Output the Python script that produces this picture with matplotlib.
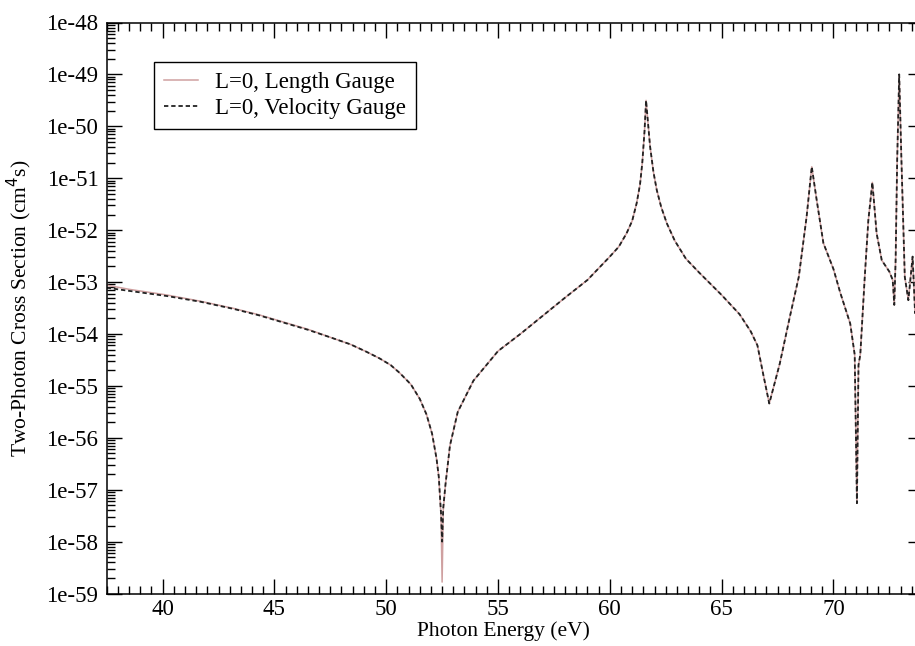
import numpy as np
import matplotlib
matplotlib.use("Agg")
import matplotlib.pyplot as plt
from matplotlib.ticker import MultipleLocator, FixedLocator, LogLocator, FuncFormatter, NullFormatter

plt.rcParams['font.family'] = ['Liberation Serif', 'DejaVu Serif']

# Photon energy (eV)
energy = [37.5, 38.5, 40.2, 41.7, 43.2, 44.3, 45.4, 46.5, 47.6, 48.4, 49.1, 49.7,
          50.2, 50.6, 51.1, 51.5, 51.8, 52.05, 52.25, 52.35, 52.45, 52.5, 52.55,
          52.65, 52.85, 53.2, 53.9, 55.0, 56.0, 57.0, 58.0, 59.0, 60.0, 60.4, 60.75,
          61.0, 61.2, 61.35, 61.45, 61.55, 61.62, 61.7, 61.8, 61.95, 62.1, 62.3, 62.55,
          62.9, 63.4, 64.0, 65.0, 65.8, 66.3,
          66.6, 66.87, 67.13, 67.6, 68.05, 68.45, 68.8, 69.03, 69.25, 69.55, 70.0,
          70.3, 70.75, 70.95, 71.05, 71.12, 71.2, 71.4, 71.56, 71.74, 71.93, 72.16,
          72.5, 72.65, 72.72, 72.78, 72.85, 72.94, 73.04, 73.19, 73.35, 73.54,
          73.65, 74.0]

# log10 of cross section (cm^4 s), length gauge
log_sigma_length = [-53.06, -53.14, -53.25, -53.37, -53.51, -53.63, -53.77, -53.91,
                    -54.08, -54.20, -54.34, -54.47, -54.60, -54.75, -54.97, -55.25,
                    -55.55, -55.92, -56.40, -56.75, -57.50, -58.78, -57.40, -56.90,
                    -56.15, -55.50, -54.90, -54.33, -54.00, -53.65, -53.30, -52.96,
                    -52.51, -52.32, -52.06, -51.82, -51.48, -51.12, -50.71, -50.10,
                    -49.50, -49.90, -50.39, -50.88, -51.23, -51.56, -51.87,
                    -52.20, -52.55, -52.82, -53.25, -53.62, -53.95,
                    -54.22, -54.80, -55.34,
                    -54.57, -53.67, -52.90, -51.74, -50.78, -51.42, -52.25, -52.75,
                    -53.20, -53.80, -54.40, -57.26, -54.60, -54.40, -52.90, -51.81,
                    -51.08, -52.06, -52.58, -52.80, -52.96, -53.44, -52.58, -50.65,
                    -49.00, -50.65, -52.90, -53.35, -52.51, -53.60, -53.30]

# log10 of cross section (cm^4 s), velocity gauge
log_sigma_velocity = [-53.11, -53.17, -53.27, -53.38, -53.52, -53.64, -53.78, -53.92,
                      -54.08, -54.20, -54.34, -54.47, -54.60, -54.75, -54.97, -55.25,
                      -55.55, -55.92, -56.40, -56.75, -57.45, -58.00, -57.35, -56.90,
                      -56.15, -55.50, -54.90, -54.33, -54.00, -53.65, -53.30, -52.96,
                      -52.51, -52.32, -52.06, -51.82, -51.48, -51.12, -50.71, -50.10,
                      -49.50, -49.90, -50.39, -50.88, -51.23, -51.56, -51.87,
                      -52.20, -52.55, -52.82, -53.25, -53.62, -53.95,
                      -54.22, -54.80, -55.34,
                      -54.57, -53.67, -52.90, -51.74, -50.78, -51.42, -52.25, -52.75,
                      -53.20, -53.80, -54.40, -57.26, -54.60, -54.40, -52.90, -51.81,
                      -51.08, -52.06, -52.58, -52.80, -52.96, -53.44, -52.58, -50.65,
                      -49.00, -50.65, -52.90, -53.35, -52.51, -53.60, -53.30]

# y tick exponents (labels 1e-59 ... 1e-48)
y_tick_exponents = list(range(-59, -47))

sigma_length = 10.0 ** np.array(log_sigma_length)
sigma_velocity = 10.0 ** np.array(log_sigma_velocity)

W, H = 915, 646
fig = plt.figure(figsize=(W / 100, H / 100), dpi=100)
left, right, top, bottom = 106.7, 922.9, 22.5, 593.5
ax = fig.add_axes([left / W, 1 - bottom / H, (right - left) / W, (bottom - top) / H])

ax.plot(energy, sigma_length, color='#cfa0a0', lw=1.1, label='L=0, Length Gauge')
ax.plot(energy, sigma_velocity, color='#222222', lw=1.3, linestyle=(0, (2.4, 1.6)),
        label='L=0, Velocity Gauge')

ax.set_yscale('log')
ax.set_xlim(37.5, 74.0)
ax.set_ylim(1e-59, 1e-48)

ax.xaxis.set_major_locator(MultipleLocator(5))
ax.xaxis.set_minor_locator(MultipleLocator(0.5))
ax.yaxis.set_major_locator(FixedLocator([10.0 ** e for e in y_tick_exponents]))
ax.yaxis.set_minor_locator(LogLocator(base=10, subs=np.arange(2, 10), numticks=200))
ax.yaxis.set_minor_formatter(NullFormatter())
ax.yaxis.set_major_formatter(FuncFormatter(lambda v, p: "1e%d" % int(round(np.log10(v)))))

ax.tick_params(which='both', direction='in', top=True, right=True, labelsize=16.5, width=1)
ax.tick_params(which='major', length=11)
ax.tick_params(which='minor', length=5.5)
ax.tick_params(axis='y', which='major', pad=6)
ax.tick_params(axis='x', which='major', pad=4)
for s in ax.spines.values():
    s.set_linewidth(1.1)

ax.set_xlabel('Photon Energy (eV)', fontsize=15.5)
ax.xaxis.set_label_coords((503 - left) / (right - left), -(621 - bottom) / (bottom - top))
ax.set_ylabel('Two-Photon Cross Section (cm$^{4}$s)', fontsize=15.5)
ax.yaxis.set_label_coords(-(left - 34) / (right - left), 0.5)

leg = ax.legend(loc='upper left', bbox_to_anchor=(0.058, 0.931), borderaxespad=0,
                fancybox=False, edgecolor='black', fontsize=16.5, handlelength=1.45,
                handletextpad=0.75, borderpad=0.45, labelspacing=0.2, framealpha=1)
leg.get_frame().set_linewidth(1.0)

fig.savefig('out.png', dpi=100)
